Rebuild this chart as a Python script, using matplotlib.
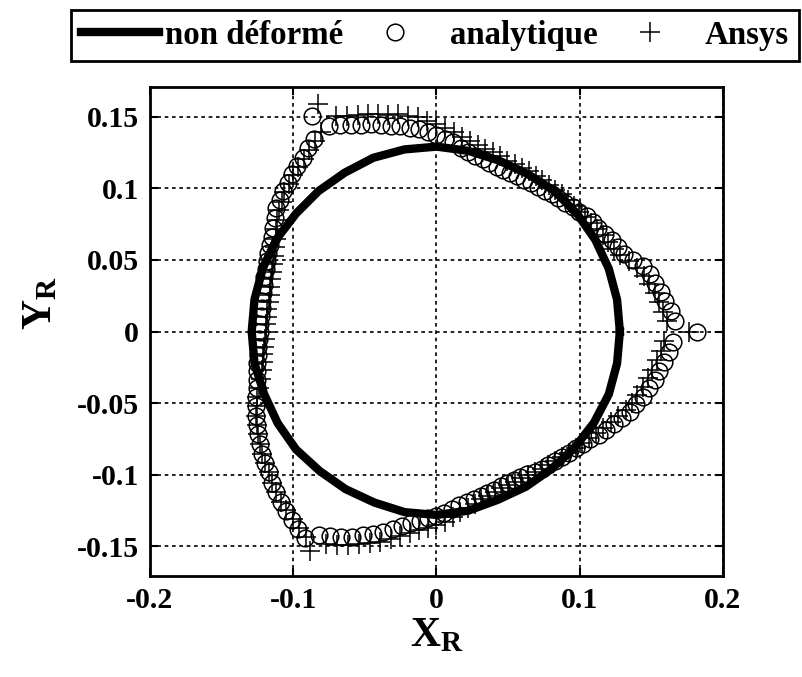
import numpy as np
from matplotlib import pyplot as plt
from matplotlib.legend_handler import HandlerLine2D

plt.rcParams['font.family'] = 'Liberation Serif'
plt.rcParams['font.weight'] = 'bold'
plt.rcParams['mathtext.fontset'] = 'custom'
plt.rcParams['mathtext.bf'] = 'Liberation Serif:bold'
plt.rcParams['mathtext.rm'] = 'Liberation Serif:bold'

# Forme non deformee : rayon lu tous les 10 degres
theta_cercle = np.arange(0, 360, 10)
r_cercle = [0.128, 0.128, 0.128, 0.128, 0.128, 0.128, 0.127, 0.127, 0.128,
            0.129, 0.129, 0.129, 0.128, 0.128, 0.128, 0.129, 0.129, 0.129,
            0.129, 0.129, 0.128, 0.128, 0.128, 0.127, 0.127, 0.127, 0.128,
            0.128, 0.127, 0.125, 0.125, 0.125, 0.126, 0.127, 0.128, 0.128]

# Forme deformee : rayon lu tous les 2.5 degres
theta_def = np.arange(0, 360, 2.5)
r_analytique = [
    0.182, 0.167, 0.164, 0.161, 0.159, 0.156, 0.154, 0.151, 0.146, 0.142, 0.140, 0.138,
    0.136, 0.134, 0.133, 0.132, 0.130, 0.129, 0.127, 0.126, 0.125, 0.124, 0.123, 0.1225,
    0.122, 0.122, 0.122, 0.122, 0.1225, 0.123, 0.1245, 0.1255, 0.127, 0.129, 0.1325, 0.1345,
    0.137, 0.1395, 0.142, 0.1435, 0.1455, 0.147, 0.149, 0.1515, 0.1535, 0.156, 0.159, 0.162,
    0.1735, 0.159, 0.156, 0.153, 0.151, 0.149, 0.147, 0.145, 0.1425, 0.141, 0.138, 0.135,
    0.1325, 0.131, 0.1295, 0.128, 0.127, 0.126, 0.125, 0.124, 0.1235, 0.123, 0.123, 0.123,
    0.1235, 0.124, 0.125, 0.126, 0.127, 0.128, 0.130, 0.1315, 0.134, 0.1365, 0.139, 0.141,
    0.1435, 0.146, 0.149, 0.151, 0.153, 0.156, 0.158, 0.161, 0.1637, 0.1655, 0.168, 0.171,
    0.164, 0.161, 0.158, 0.155, 0.151, 0.148, 0.145, 0.1415, 0.138, 0.135, 0.1325, 0.1305,
    0.129, 0.127, 0.1245, 0.122, 0.121, 0.1198, 0.119, 0.118, 0.1175, 0.117, 0.117, 0.117,
    0.1172, 0.118, 0.1195, 0.1205, 0.1215, 0.1225, 0.124, 0.1255, 0.127, 0.129, 0.131, 0.1345,
    0.137, 0.140, 0.143, 0.146, 0.1485, 0.151, 0.1535, 0.156, 0.158, 0.1605, 0.163, 0.165]
r_ansys = [
    0.176, 0.161, 0.159, 0.157, 0.155, 0.152, 0.150, 0.147, 0.143, 0.139, 0.137, 0.135,
    0.134, 0.133, 0.132, 0.131, 0.130, 0.130, 0.130, 0.130, 0.129, 0.129, 0.129, 0.129,
    0.129, 0.129, 0.129, 0.129, 0.130, 0.131, 0.132, 0.133, 0.135, 0.137, 0.140, 0.142,
    0.145, 0.147, 0.150, 0.152, 0.154, 0.155, 0.157, 0.159, 0.161, 0.163, 0.166, 0.179,
    0.161, 0.158, 0.155, 0.152, 0.150, 0.148, 0.146, 0.144, 0.141, 0.139, 0.136, 0.133,
    0.129, 0.127, 0.125, 0.1235, 0.122, 0.121, 0.120, 0.119, 0.119, 0.119, 0.119, 0.119,
    0.119, 0.120, 0.121, 0.122, 0.123, 0.125, 0.127, 0.130, 0.133, 0.136, 0.139, 0.141,
    0.1435, 0.146, 0.149, 0.151, 0.153, 0.156, 0.158, 0.161, 0.163, 0.165, 0.167, 0.170,
    0.177, 0.167, 0.164, 0.161, 0.158, 0.155, 0.152, 0.148, 0.145, 0.142, 0.139, 0.137,
    0.135, 0.133, 0.130, 0.127, 0.125, 0.123, 0.121, 0.120, 0.119, 0.118, 0.118, 0.118,
    0.118, 0.119, 0.1195, 0.1205, 0.1215, 0.1225, 0.124, 0.1255, 0.127, 0.128, 0.130, 0.132,
    0.134, 0.137, 0.140, 0.143, 0.145, 0.147, 0.149, 0.151, 0.153, 0.155, 0.157, 0.159]

xticks = [-0.2, -0.1, 0, 0.1, 0.2]
xlabels = ['-0.2', '-0.1', '0', '0.1', '0.2']
yticks = [-0.15, -0.1, -0.05, 0, 0.05, 0.1, 0.15]
ylabels = ['-0.15', '-0.1', '-0.05', '0', '0.05', '0.1', '0.15']


def polaire(theta, r):
    t = np.radians(theta)
    r = np.asarray(r)
    return r * np.cos(t), r * np.sin(t)


class MarqueurDroite(HandlerLine2D):
    # marqueur seul, place vers la droite de la zone de legende
    def get_xdata(self, legend, xdescent, ydescent, width, height, fontsize):
        m = -xdescent + width - 1.49 * fontsize
        return [m - 1, m + 1], [m]


fig = plt.figure(figsize=(8.03, 6.77), dpi=100)
ax = fig.add_axes([150 / 803, 1 - 576 / 677, 573 / 803, 489 / 677])

xc, yc = polaire(theta_cercle, r_cercle)
xc = np.append(xc, xc[0])
yc = np.append(yc, yc[0])
xa, ya = polaire(theta_def, r_analytique)
xs, ys = polaire(theta_def, r_ansys)

ax.plot(xc, yc, color='black', lw=6, solid_joinstyle='round', label='non déformé')
ax.plot(xa, ya, 'o', mfc='none', mec='black', ms=12, mew=1.1, label='analytique')
ax.plot(xs, ys, '+', color='black', ms=14, mew=1.1, label='Ansys')

ax.set_xlim(-0.2, 0.2)
ax.set_ylim(-0.1706, 0.1706)
ax.set_xticks(xticks)
ax.set_xticklabels(xlabels)
ax.set_yticks(yticks)
ax.set_yticklabels(ylabels)
ax.tick_params(direction='in', length=6, width=1.5, top=True, right=True,
               labelsize=21.5, pad=8)
for s in ax.spines.values():
    s.set_linewidth(2)
ax.grid(True, color='black', linestyle=(0, (2.2, 2.2)), linewidth=1.2)

ax.set_xlabel(r'$\mathbf{X_R}$', fontsize=30, labelpad=2)
ax.set_ylabel(r'$\mathbf{Y_R}$', fontsize=30, labelpad=12)
ax.yaxis.label.set_y(0.558)

h, l = ax.get_legend_handles_labels()
leg = fig.legend(h, l, loc='center', bbox_to_anchor=(0.5417, 0.9476), ncol=3,
                 fontsize=23.7, frameon=True, fancybox=False, edgecolor='black',
                 framealpha=1, handlelength=2.37, handletextpad=0.18,
                 columnspacing=0.7, borderpad=0.3,
                 handler_map={h[1]: MarqueurDroite(numpoints=1),
                              h[2]: MarqueurDroite(numpoints=1)})
leg.get_frame().set_linewidth(2)

plt.savefig('out.png', dpi=100)
